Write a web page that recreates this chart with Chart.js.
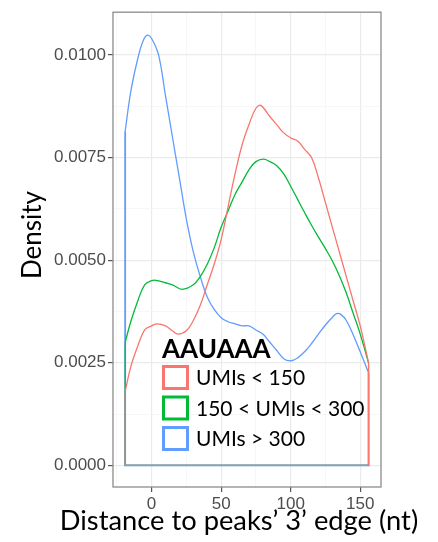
<!DOCTYPE html>
<html>
<head>
<meta charset="utf-8">
<script src="https://cdn.jsdelivr.net/npm/chart.js@4"></script>
<style>
  html, body { margin: 0; padding: 0; background: #fff; }
  #wrap { width: 438px; height: 542px; position: relative; }
</style>
</head>
<body>
<div id="wrap"><canvas id="chart"></canvas></div>
<script>
/* =========================
   DATA
========================= */
const legendTitle = "AAUAAA";
const seriesNames = ["UMIs < 150", "150 < UMIs < 300", "UMIs > 300"];
const seriesColors = ["#F8766D", "#00BA38", "#619CFF"];
const xTitle = "Distance to peaks\u2019 3\u2019 edge (nt)";
const yTitle = "Density";

// distance (nt) / density for each group
const lowX = [-19, -15, -10, -5, 0, 4, 10, 15, 19, 25, 30, 35, 40, 45, 50, 55, 60, 65, 70, 75, 78.5, 85, 90, 95, 100, 105, 110, 115, 120, 125, 130, 135, 140, 145, 150, 156];
const lowY = [0.0018, 0.0024, 0.0029, 0.0033, 0.0034, 0.00345, 0.0034, 0.00328, 0.0032, 0.00328, 0.00353, 0.0039, 0.0044, 0.0049, 0.0055, 0.0063, 0.0071, 0.0078, 0.0083, 0.0087, 0.00877, 0.0085, 0.0083, 0.0081, 0.00798, 0.0079, 0.0077, 0.0075, 0.007, 0.0064, 0.0058, 0.0052, 0.0046, 0.004, 0.0034, 0.0025];

const midX = [-19, -15, -10, -5, 0, 3, 10, 15, 22, 30, 35, 40, 45, 50, 55, 60, 65, 70, 75, 80.5, 85, 90, 95, 100, 105, 110, 115, 120, 125, 130, 135, 140, 145, 150, 156];
const midY = [0.003, 0.0035, 0.004, 0.0044, 0.0045, 0.00451, 0.00445, 0.0044, 0.00429, 0.0044, 0.0046, 0.0049, 0.0053, 0.0058, 0.0062, 0.0066, 0.0069, 0.0072, 0.0074, 0.00746, 0.0074, 0.0073, 0.0071, 0.0068, 0.00648, 0.00616, 0.00585, 0.00556, 0.00528, 0.00498, 0.00462, 0.0042, 0.0037, 0.0032, 0.0025];

const highX = [-19, -15, -10, -6, -3, 0, 5, 10, 15, 20, 25, 30, 35, 40, 45, 50, 55, 60, 65, 70, 75, 80, 85, 90, 95, 100, 105, 110, 115, 120, 125, 130, 133, 136, 140, 145, 150, 156];
const highY = [0.00814, 0.0091, 0.0099, 0.01035, 0.01048, 0.0104, 0.01, 0.009, 0.008, 0.007, 0.006, 0.0052, 0.0046, 0.0041, 0.0038, 0.0036, 0.0035, 0.00345, 0.0034, 0.0034, 0.0033, 0.0032, 0.003, 0.0028, 0.0026, 0.00255, 0.00262, 0.00277, 0.00297, 0.0032, 0.00342, 0.00361, 0.0037, 0.00368, 0.00353, 0.00318, 0.00277, 0.00226];

const xTicks = [0, 50, 100, 150];
const xMinor = [-25, 25, 75, 125];
const yTicks = [0, 0.0025, 0.005, 0.0075, 0.01];
const yMinor = [0.00125, 0.00375, 0.00625, 0.00875];

/* =========================
   DATASETS
========================= */
const groups = [
  [lowX, lowY],
  [midX, midY],
  [highX, highY],
];

const datasets = [];

groups.forEach(([xs, ys], i) => {
  const last = xs.length - 1;
  const top = i === groups.length - 1;

  // closed outline of the density polygon (ends + baseline)
  datasets.push({
    label: seriesNames[i] + " base",
    outline: true,
    data: [
      { x: xs[0], y: ys[0] },
      { x: xs[0], y: 0 },
      { x: xs[last], y: 0 },
      { x: xs[last], y: ys[last] },
    ],
    borderColor: seriesColors[i],
    borderWidth: top ? 1.8 : 1.2,
    pointRadius: 0,
    tension: 0,
  });

  datasets.push({
    label: seriesNames[i],
    data: xs.map((x, k) => ({ x, y: ys[k] })),
    borderColor: seriesColors[i],
    borderWidth: 1.3,
    pointRadius: 0,
    tension: 0.4,
  });
});

/* =========================
   PLUGINS
========================= */
const panelBorder = {
  id: "panelBorder",
  afterDatasetsDraw(chart) {
    const { ctx, chartArea: a } = chart;
    ctx.save();
    ctx.strokeStyle = "#8c8c8c";
    ctx.lineWidth = 1.3;
    ctx.strokeRect(a.left, a.top, a.right - a.left, a.bottom - a.top);
    ctx.restore();
  },
};

// axis titles, drawn by hand so they keep their natural width
const axisTitles = {
  id: "axisTitles",
  afterDraw(chart) {
    const ctx = chart.ctx;
    ctx.save();
    ctx.fillStyle = "#000";
    ctx.textAlign = "center";
    ctx.textBaseline = "alphabetic";

    ctx.font = "26px Lato";
    const w = ctx.measureText(xTitle).width;
    const size = 26 * 358 / w;
    ctx.font = size.toFixed(1) + "px Lato";
    ctx.fillText(xTitle, 239, 530);

    ctx.font = "26px Lato";
    ctx.translate(41, 235);
    ctx.rotate(-Math.PI / 2);
    ctx.fillText(yTitle, 0, 0);
    ctx.restore();
  },
};

const legendBox = {
  id: "legendBox",
  afterDraw(chart) {
    const ctx = chart.ctx;
    const x0 = 162;

    ctx.save();
    ctx.fillStyle = "#000";
    ctx.font = "bold 26px Lato";
    ctx.textBaseline = "alphabetic";
    ctx.fillText(legendTitle, x0, 358);

    ctx.font = "21px Lato";
    ctx.textBaseline = "middle";

    chart.data.datasets
      .filter((d) => !d.outline)
      .forEach((d, i) => {
        const cy = 377.5 + i * 30.5;
        ctx.fillStyle = "#fff";
        ctx.fillRect(x0, cy - 12.5, 27, 25);
        ctx.strokeStyle = d.borderColor;
        ctx.lineWidth = 3;
        ctx.strokeRect(x0 + 1.5, cy - 11, 24, 22);
        ctx.fillStyle = "#000";
        ctx.fillText(d.label, 196, cy + 1);
      });
    ctx.restore();
  },
};

/* =========================
   CHART
========================= */
const isMajor = (list, v) => list.some((t) => Math.abs(t - v) < 1e-9);

new Chart(document.getElementById("chart"), {
  type: "line",
  data: { datasets },
  plugins: [panelBorder, axisTitles, legendBox],
  options: {
    responsive: true,
    maintainAspectRatio: false,
    animation: false,
    layout: { padding: { top: 3, right: 57, bottom: 0, left: 0 } },
    plugins: {
      legend: { display: false },
      tooltip: { enabled: false },
    },
    scales: {
      x: {
        type: "linear",
        min: -27.75,
        max: 164.95,
        afterFit: (s) => { s.height = 55; },
        afterBuildTicks: (s) => {
          s.ticks = xMinor.concat(xTicks).sort((a, b) => a - b).map((v) => ({ value: v }));
        },
        border: { display: false },
        grid: {
          color: (c) => (isMajor(xTicks, c.tick.value) ? "#ebebeb" : "#f4f4f4"),
          lineWidth: (c) => (isMajor(xTicks, c.tick.value) ? 1.2 : 0.7),
          tickColor: (c) => (isMajor(xTicks, c.tick.value) ? "#555" : "rgba(0,0,0,0)"),
          tickLength: 5,
        },
        ticks: {
          autoSkip: false,
          maxRotation: 0,
          padding: 2,
          color: "#4d4d4d",
          font: { family: "Liberation Sans", size: 17 },
          callback: (v) => (isMajor(xTicks, v) ? String(v) : ""),
        },
      },
      y: {
        min: -0.000525,
        max: 0.01104,
        afterFit: (s) => { s.width = 113; },
        afterBuildTicks: (s) => {
          s.ticks = yMinor.concat(yTicks).sort((a, b) => a - b).map((v) => ({ value: v }));
        },
        border: { display: false },
        grid: {
          color: (c) => (isMajor(yTicks, c.tick.value) ? "#ebebeb" : "#f4f4f4"),
          lineWidth: (c) => (isMajor(yTicks, c.tick.value) ? 1.2 : 0.7),
          tickColor: (c) => (isMajor(yTicks, c.tick.value) ? "#555" : "rgba(0,0,0,0)"),
          tickLength: 5,
        },
        ticks: {
          autoSkip: false,
          padding: 2,
          color: "#4d4d4d",
          font: { family: "Liberation Sans", size: 17 },
          callback: (v) => (isMajor(yTicks, v) ? v.toFixed(4) : ""),
        },
      },
    },
  },
});
</script>
</body>
</html>
